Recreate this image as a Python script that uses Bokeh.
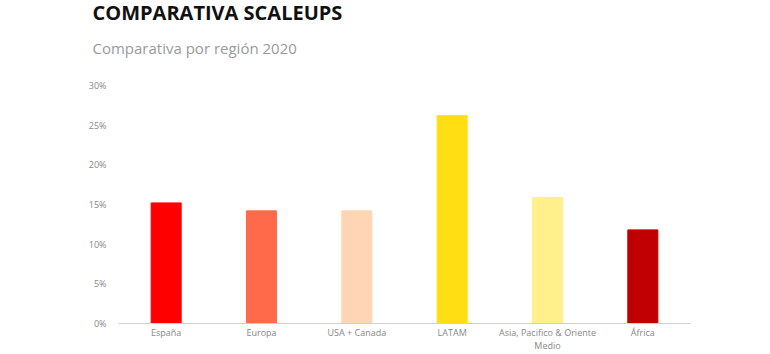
from bokeh.plotting import figure
from bokeh.models import Title, FixedTicker, NumeralTickFormatter, ColumnDataSource, Range1d
from bokeh.embed import file_html
from bokeh.resources import INLINE

categories = ["España", "Europa", "USA + Canada", "LATAM", "Asia, Pacifico & Oriente\nMedio", "África"]
values = [0.152, 0.142, 0.142, 0.262, 0.159, 0.118]
colors = ["#FF0000", "#FF6B4A", "#FFD5B5", "#FFDE14", "#FFF08C", "#C00000"]
y_ticks = [0, 0.05, 0.10, 0.15, 0.20, 0.25, 0.30]

src = ColumnDataSource(dict(cat=categories, val=values, color=colors))

p = figure(x_range=categories, y_range=Range1d(0, 0.30), width=770, height=354,
           output_backend="svg", toolbar_location=None,
           min_border_left=118, min_border_right=80, min_border_top=85, min_border_bottom=30)

p.title.text = "COMPARATIVA SCALEUPS"
p.title.text_font = "Open Sans"
p.title.text_font_size = "20px"
p.title.text_font_style = "bold"
p.title.text_color = "#111111"
p.title.offset = -26
p.title.standoff = -35
sub = Title(text="Comparativa por región 2020", text_font="Open Sans", text_font_size="15px",
            text_font_style="normal", text_color="#9a9a9a", offset=-26, standoff=55)
p.add_layout(sub, "above")

p.vbar(x="cat", top="val", width=0.315, color="color", source=src)

p.xgrid.visible = False
p.ygrid.visible = False
p.outline_line_color = None

p.yaxis.ticker = FixedTicker(ticks=y_ticks)
p.yaxis.formatter = NumeralTickFormatter(format="0%")
p.yaxis.axis_line_color = None
p.yaxis.major_tick_line_color = None
p.yaxis.minor_tick_line_color = None
p.yaxis.major_label_standoff = 6
p.yaxis.major_label_text_font = "Open Sans"
p.yaxis.major_label_text_font_size = "9px"
p.yaxis.major_label_text_color = "#888888"

p.xaxis.axis_line_color = "#d0d0d0"
p.xaxis.major_tick_line_color = None
p.xaxis.minor_tick_line_color = None
p.xaxis.major_tick_out = 0
p.xaxis.major_tick_in = 0
p.xaxis.major_label_standoff = 2
p.xaxis.major_label_text_line_height = 1.0
p.xaxis.major_label_text_font = "Open Sans"
p.xaxis.major_label_text_font_size = "9px"
p.xaxis.major_label_text_color = "#888888"

open("out.html", "w").write(file_html(p, INLINE))
